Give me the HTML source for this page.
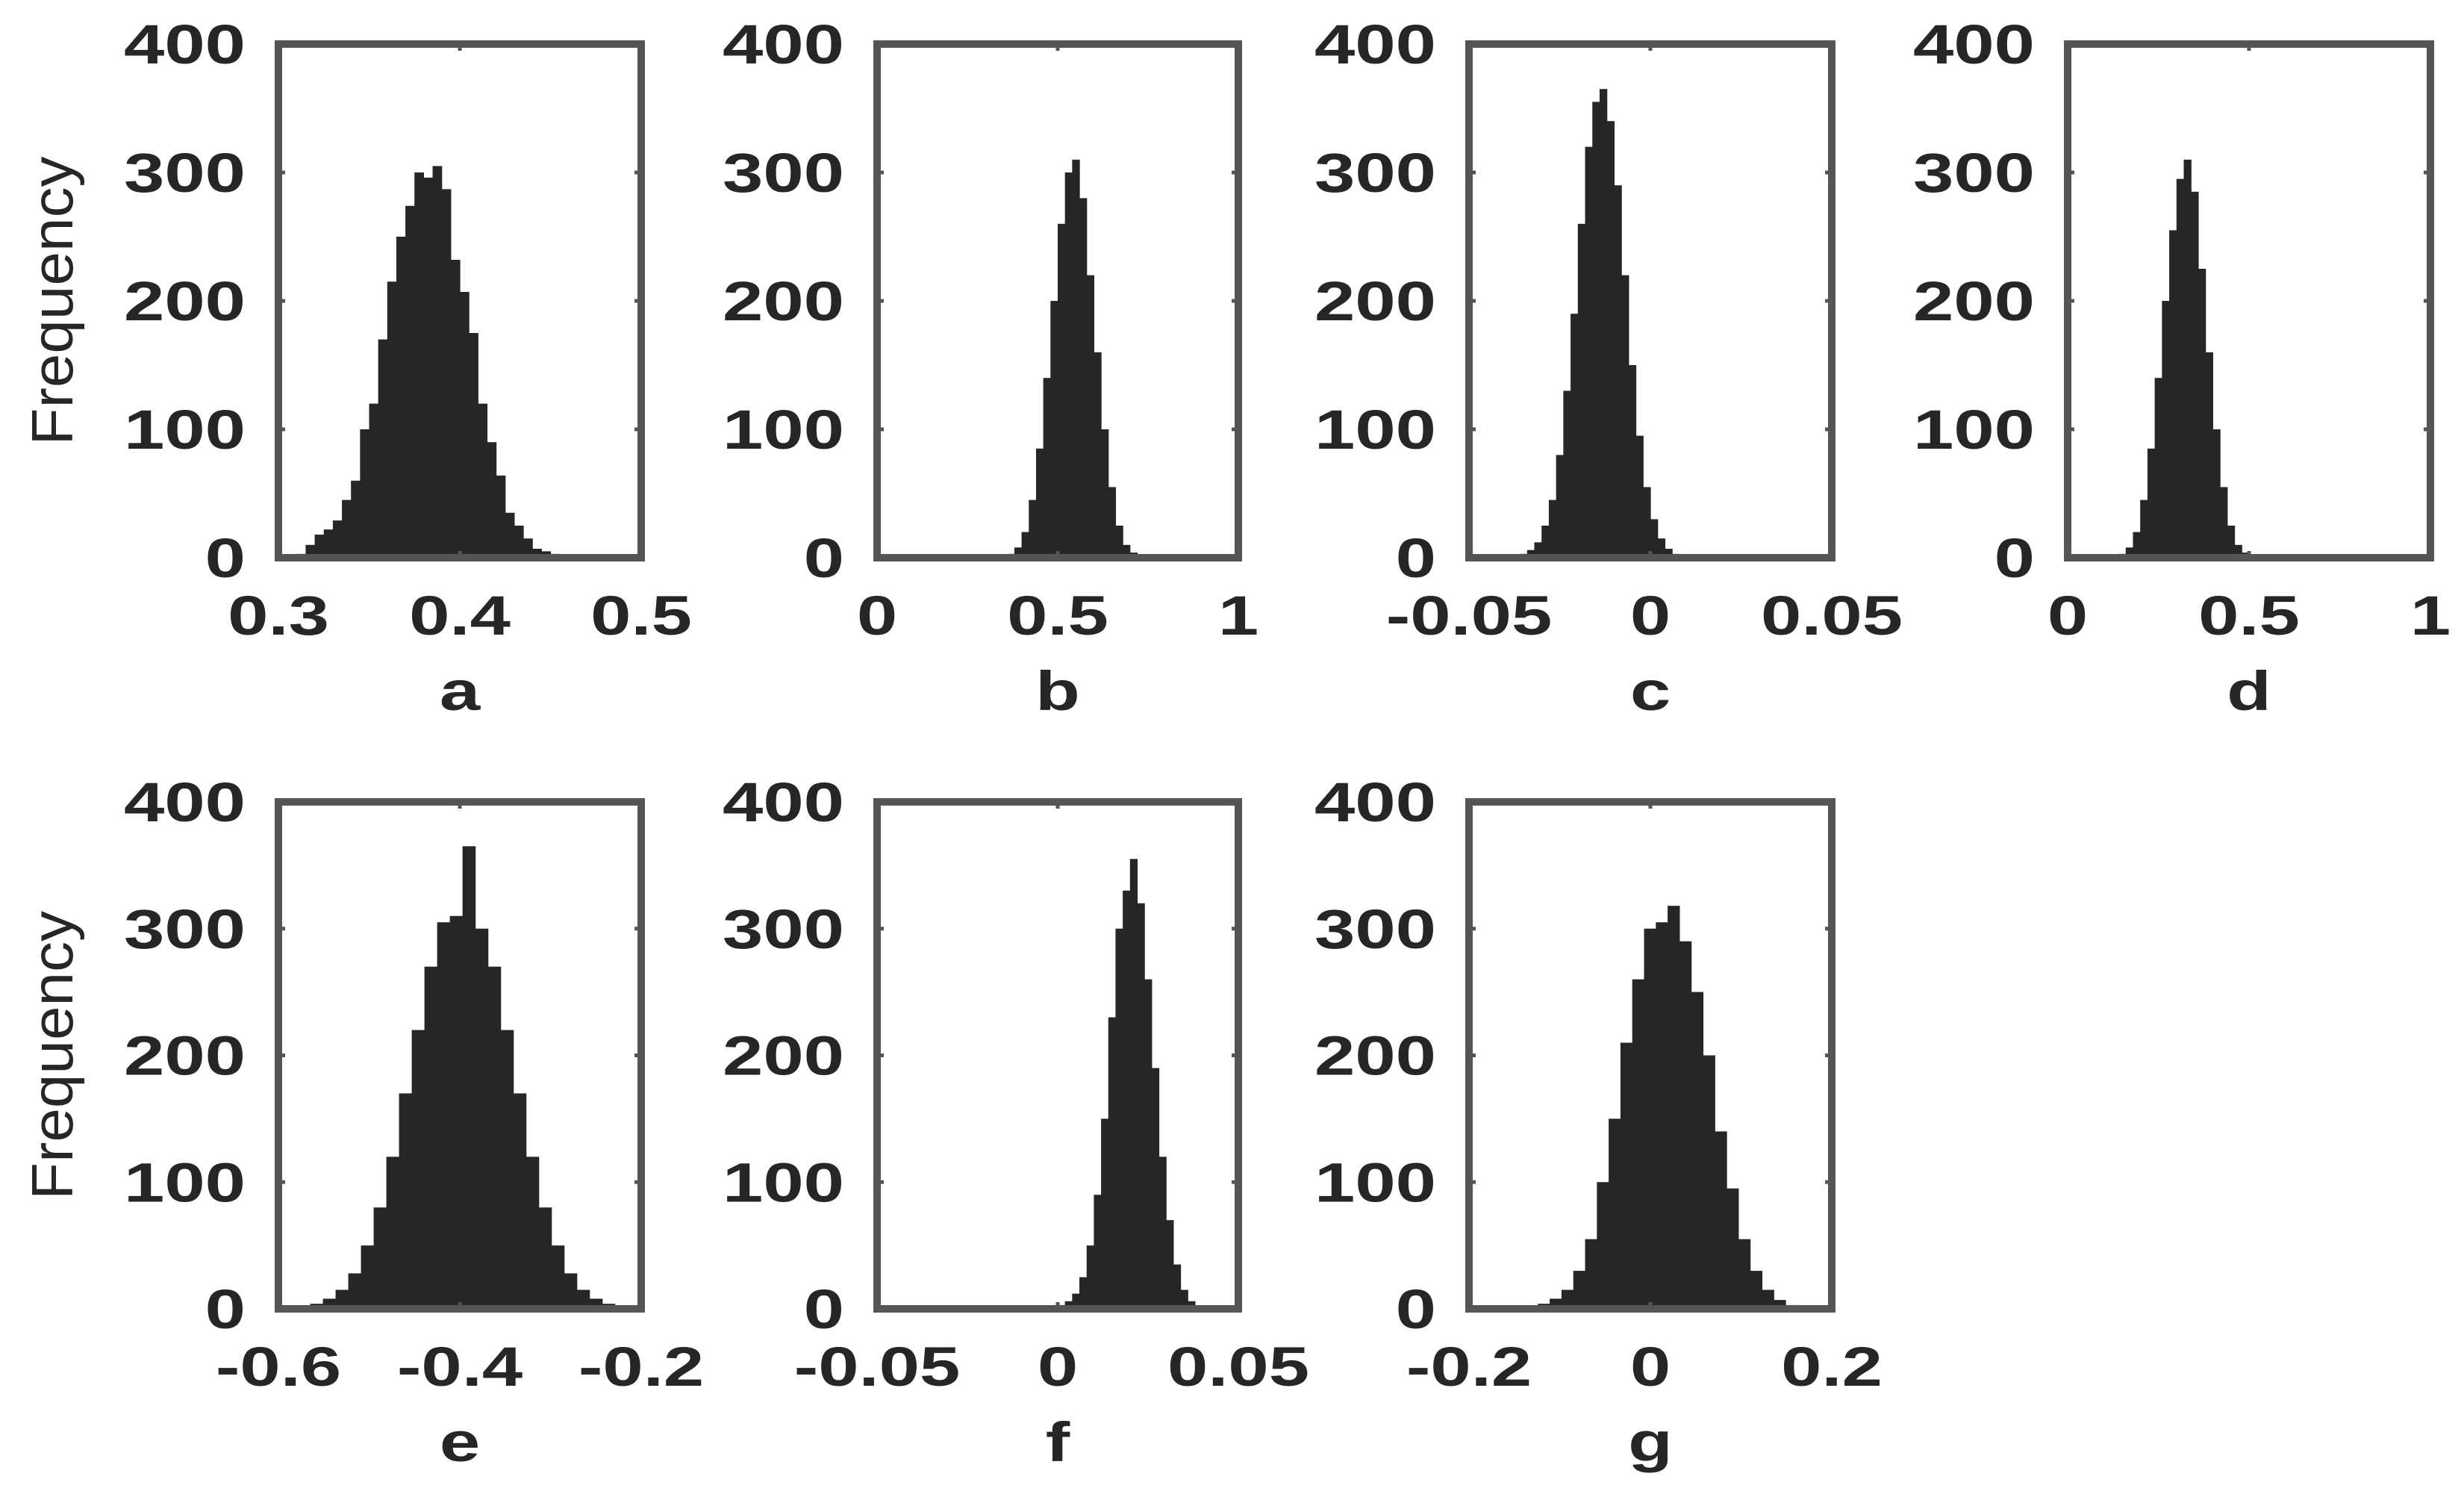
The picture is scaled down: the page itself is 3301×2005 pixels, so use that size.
<!DOCTYPE html>
<html><head><meta charset="utf-8"><style>
html,body{margin:0;padding:0;background:#fff;}
svg{display:block;}
text{font-family:"Liberation Sans",Arial,sans-serif;fill:#262626;}
</style></head><body>
<svg id="fig" width="3301" height="2005" viewBox="0 0 3301 2005" xmlns="http://www.w3.org/2000/svg"></svg>
<script>
// ---- data ----
const panelLetters = ["a","b","c","d","e","f","g"];
const xMins = [0.3, 0, -0.05, 0, -0.6, -0.05, -0.2];
const xMaxs = [0.5, 1, 0.05, 1, -0.2, 0.05, 0.2];
const xTickLabels = [["0.3","0.4","0.5"],["0","0.5","1"],["-0.05","0","0.05"],["0","0.5","1"],["-0.6","-0.4","-0.2"],["-0.05","0","0.05"],["-0.2","0","0.2"]];
const yTickLabels = ["0","100","200","300","400"];
const yTickValues = [0,100,200,300,400];
const binStarts = [0.30, 0.34, -0.038, 0.12, -0.593, -0.002, -0.15];
const binWidths = [0.005, 0.02, 0.002, 0.02, 0.014, 0.002, 0.013];
const countsA = [1,2,3,10,18,22,29,45,60,100,120,170,215,250,274,300,296,305,287,232,207,175,120,90,64,35,25,15,7,5,3,2,1,1,1,0,0,0,0,0];
const countsB = [1,3,8,20,45,85,140,200,260,300,310,280,220,160,100,55,25,10,4,1];
const countsC = [1,3,6,12,25,45,80,130,190,260,320,355,365,340,290,220,150,95,55,30,15,7,3,1];
const countsD = [1,3,8,20,45,85,140,200,255,295,310,285,225,160,100,55,25,10,4,1];
const countsE = [1,2,4,8,15,28,50,80,120,170,220,270,305,310,365,300,270,220,170,120,80,50,28,15,8,4,2,1];
const countsF = [1,3,6,12,25,50,90,150,230,300,330,355,320,260,190,120,70,35,15,6,2,1];
const countsG = [1,2,4,8,15,30,55,100,150,210,260,300,305,318,290,250,200,140,95,55,30,15,7,3,1];
const allCounts = [countsA,countsB,countsC,countsD,countsE,countsF,countsG];

// ---- layout ----
const colL = [373, 1175, 1968, 2770];
const colR = [859, 1659, 2454, 3256];
const rowT = [59, 1074];
const rowB = [747, 1753];
const NS = "http://www.w3.org/2000/svg";
const svg = document.getElementById("fig");
function mk(tag, attrs, parent){const e=document.createElementNS(NS,tag);for(const k in attrs)e.setAttribute(k,attrs[k]);(parent||svg).appendChild(e);return e;}
function txt(parent, str, x, y, anchor, size, weight, sx){
  const g = mk("g",{transform:`translate(${x},${y}) scale(${sx},1)`},parent);
  const t = mk("text",{x:0,y:0,"text-anchor":anchor,"font-size":size,"font-weight":weight},g);
  t.textContent = str; return t;
}

panelLetters.forEach((letter, p) => {
  const col = p < 4 ? p : p - 4, row = p < 4 ? 0 : 1;
  const L = colL[col], R = colR[col], T = rowT[row], B = rowB[row];
  const xs = v => L + (v - xMins[p]) / (xMaxs[p] - xMins[p]) * (R - L);
  const ys = v => B - v / 400 * (B - T);
  const g = mk("g",{});
  
  
  const bars = mk("g",{},g);
  
  
  allCounts[p].forEach((c, i) => {
    const x0 = xs(binStarts[p] + i * binWidths[p]);
    const x1 = xs(binStarts[p] + (i + 1) * binWidths[p]);
    const r = mk("rect",{x:x0,y:ys(c),width:Math.max(0,x1-x0+0.6),height:B-ys(c),fill:"#262626"},bars);
    
    
  });
  const fr = mk("rect",{x:L,y:T,width:R-L,height:B-T,fill:"none",stroke:"#555",["stroke-width"]:10},g);
  
  
  const yax = mk("g",{},g);
  
  
  yTickValues.forEach((v, i) => {
    const y = ys(v);
    mk("line",{x1:L,x2:L+9,y1:y,y2:y,stroke:"#555","stroke-width":5},yax);
    mk("line",{x1:R-9,x2:R,y1:y,y2:y,stroke:"#555","stroke-width":5},yax);
    const t = txt(yax, yTickLabels[i], L - 44, y + 26, "end", 74, "bold", 1.32);
    
    
  });
  const xax = mk("g",{},g);
  
  
  xTickLabels[p].forEach((lab, i) => {
    const x = xs(parseFloat(lab));
    mk("line",{x1:x,x2:x,y1:T,y2:T+9,stroke:"#555","stroke-width":5},xax);
    mk("line",{x1:x,x2:x,y1:B-9,y2:B,stroke:"#555","stroke-width":5},xax);
    const t = txt(xax, lab, x, B + 103, "middle", 74, "bold", 1.32);
    
    
  });
  const lt = txt(g, letter, (L + R) / 2, B + 204, "middle", 74, "bold", 1.32);
  
  
  if (col === 0) {
    const yg = mk("g",{transform:`translate(${L-276},${(T+B)/2}) rotate(-90) scale(1.05,1)`},g);
    const yt = mk("text",{x:0,y:0,"text-anchor":"middle","font-size":78},yg);
    yt.textContent = "Frequency";
    
    
  }
});
</script>
</body></html>
